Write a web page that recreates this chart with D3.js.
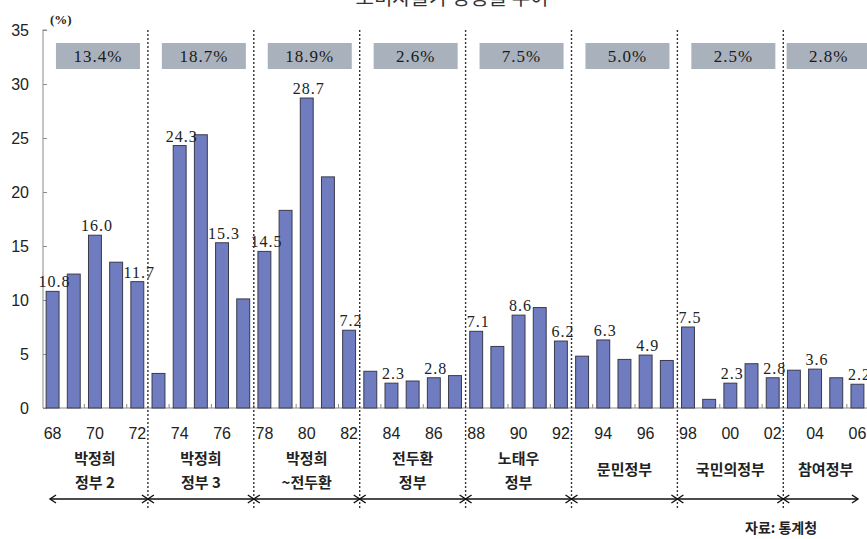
<!DOCTYPE html>
<html>
<head>
<meta charset="utf-8">
<script src="https://cdn.jsdelivr.net/npm/d3@7"></script>
<style>
  body { margin: 0; background: #fff; }
  svg { display: block; }
</style>
</head>
<body>
<script>
// Consumer price inflation by year, grouped by administration (5-year eras)
const years = ["68","69","70","71","72","73","74","75","76","77","78","79","80","81","82",
               "83","84","85","86","87","88","89","90","91","92","93","94","95","96","97",
               "98","99","00","01","02","03","04","05","06"];
const inflation = [10.8, 12.4, 16.0, 13.5, 11.7,
                   3.2, 24.3, 25.3, 15.3, 10.1,
                   14.5, 18.3, 28.7, 21.4, 7.2,
                   3.4, 2.3, 2.5, 2.8, 3.0,
                   7.1, 5.7, 8.6, 9.3, 6.2,
                   4.8, 6.3, 4.5, 4.9, 4.4,
                   7.5, 0.8, 2.3, 4.1, 2.8,
                   3.5, 3.6, 2.8, 2.2];
const labeledYears = ["68","70","72","74","76","78","80","82","84","86","88","90",
                      "92","94","96","98","00","02","04","06"];
const eraNames = [["박정희","정부 2"], ["박정희","정부 3"], ["박정희","~전두환"], ["전두환","정부"],
                  ["노태우","정부"], ["문민정부"], ["국민의정부"], ["참여정부"]];
const eraAverages = ["13.4%","18.7%","18.9%","2.6%","7.5%","5.0%","2.5%","2.8%"];
const yTicks = [0, 5, 10, 15, 20, 25, 30, 35];
const eraLength = 5;

const W = 867, H = 539;
const svg = d3.select("body").append("svg").attr("width", W).attr("height", H);

const step = 21.18;
const x = d3.scaleBand().domain(years)
  .range([42, 42 + step * years.length])
  .paddingInner(0.39).paddingOuter(0.195);
const y = d3.scaleLinear().domain([0, 35]).range([408, 30]);
const cx = yr => x(yr) + x.bandwidth() / 2;
const gapHalf = (x.step() - x.bandwidth()) / 2;

// Title (sits at the very top edge)
svg.append("text").attr("x", 452).attr("y", 5)
  .attr("text-anchor", "middle")
  .style("font-family", "'Noto Sans CJK KR'").style("font-size", "20px").style("fill", "#333")
  .text("소비자물가 상승률 추이");

// Y axis
const yAxis = svg.append("g").attr("transform", "translate(43,0)")
  .call(d3.axisLeft(y).tickValues(yTicks).tickSize(-4).tickPadding(14).tickFormat(d3.format("d")));
yAxis.select(".domain").attr("stroke", "#8a8a8a").attr("d", `M-0.5,${y(35)}H4V${y(35)}M0,${y(35)}V${y(0)}`);
yAxis.selectAll(".tick line").attr("stroke", "#8a8a8a");
yAxis.selectAll(".tick text")
  .style("font-family", "'Liberation Sans', Arial, sans-serif").style("font-size", "16px").style("fill", "#222");

svg.append("text").attr("x", 50).attr("y", 24)
  .style("font-family", "'Liberation Serif', serif").style("font-size", "13px").style("font-weight", "bold")
  .style("fill", "#222").text("(%)");

// X axis baseline with small ticks every two years
svg.append("line").attr("x1", 43).attr("x2", W).attr("y1", y(0)).attr("y2", y(0))
  .attr("stroke", "#8a8a8a").attr("stroke-width", 1.2);
svg.append("g").selectAll("line")
  .data(years.filter((d, i) => i > 0 && i % 2 === 0))
  .join("line")
  .attr("x1", d => x(d) - gapHalf).attr("x2", d => x(d) - gapHalf)
  .attr("y1", y(0)).attr("y2", y(0) - 4)
  .attr("stroke", "#8a8a8a");

// Bars
svg.append("g").selectAll("rect")
  .data(years.map((yr, i) => ({ yr, v: inflation[i] })))
  .join("rect")
  .attr("x", d => x(d.yr)).attr("width", x.bandwidth())
  .attr("y", d => y(d.v)).attr("height", d => y(0) - y(d.v))
  .attr("fill", "#6f7cc0").attr("stroke", "#3a3a4a").attr("stroke-width", 1);

// Value labels
svg.append("g").selectAll("text")
  .data(labeledYears.map(yr => ({ yr, v: inflation[years.indexOf(yr)] })))
  .join("text")
  .attr("x", d => cx(d.yr) + 2).attr("y", d => y(d.v) - 4)
  .attr("text-anchor", "middle")
  .style("font-family", "'Liberation Serif', serif").style("font-size", "16px")
  .style("letter-spacing", "1px").style("fill", "#222")
  .text(d => d3.format(".1f")(d.v));

// Year tick labels
svg.append("g").selectAll("text")
  .data(labeledYears)
  .join("text")
  .attr("x", d => cx(d)).attr("y", 439)
  .attr("text-anchor", "middle")
  .style("font-family", "'Liberation Sans', Arial, sans-serif").style("font-size", "16px").style("fill", "#222")
  .text(d => d);

// Era geometry: centre over the years each era actually covers
const eraYears = k => years.slice(k * eraLength, (k + 1) * eraLength);
const eraCenter = k => {
  const ys = eraYears(k);
  return (cx(ys[0]) + cx(ys[ys.length - 1])) / 2;
};
const dividers = eraNames.slice(1).map((_, k) => x(years[(k + 1) * eraLength]) - gapHalf);

// Era dividers
svg.append("g").selectAll("line")
  .data(dividers)
  .join("line")
  .attr("x1", d => d).attr("x2", d => d)
  .attr("y1", y(35)).attr("y2", 508)
  .attr("stroke", "#333").attr("stroke-width", 1.4).attr("stroke-dasharray", "2,2");

// Era average boxes
const boxes = svg.append("g").selectAll("g")
  .data(eraAverages)
  .join("g")
  .attr("transform", (d, k) => `translate(${eraCenter(k) + 3},0)`);
boxes.append("rect").attr("x", -42).attr("y", 43).attr("width", 84).attr("height", 26)
  .attr("fill", "#a9b1bc");
boxes.append("text").attr("y", 62).attr("text-anchor", "middle")
  .style("font-family", "'Liberation Serif', serif").style("font-size", "17px")
  .style("letter-spacing", "1px").style("fill", "#1a1a1a")
  .text(d => d);

// Era names
const names = svg.append("g").selectAll("text")
  .data(eraNames)
  .join("text")
  .attr("x", (d, k) => eraCenter(k))
  .attr("text-anchor", "middle")
  .style("font-family", "'Noto Sans CJK KR'").style("font-size", "15px").style("font-weight", "bold")
  .style("fill", "#222");
names.each(function (d) {
  const t = d3.select(this);
  if (d.length === 1) {
    t.append("tspan").attr("y", 475).text(d[0]);
  } else {
    t.append("tspan").attr("y", 464).text(d[0]);
    t.append("tspan").attr("x", t.attr("x")).attr("y", 488).text(d[1]);
  }
});

// Timeline arrows between eras
const arrowY = 499;
const stops = [50, ...dividers, 858];
svg.append("line").attr("x1", stops[0]).attr("x2", stops[stops.length - 1])
  .attr("y1", arrowY).attr("y2", arrowY).attr("stroke", "#111").attr("stroke-width", 1.6);
const heads = [];
stops.forEach((s, i) => {
  if (i < stops.length - 1) heads.push({ at: s, dir: 1 });
  if (i > 0) heads.push({ at: s, dir: -1 });
});
svg.append("g").selectAll("path")
  .data(heads)
  .join("path")
  .attr("d", d => `M${d.at + 6 * d.dir},${arrowY - 4}L${d.at},${arrowY}L${d.at + 6 * d.dir},${arrowY + 4}`)
  .attr("fill", "none").attr("stroke", "#111").attr("stroke-width", 1.4);

// Source note
svg.append("text").attr("x", 745).attr("y", 533)
  .style("font-family", "'Noto Sans CJK KR'").style("font-size", "14px").style("font-weight", "bold")
  .style("fill", "#222").text("자료: 통계청");
</script>
</body>
</html>
